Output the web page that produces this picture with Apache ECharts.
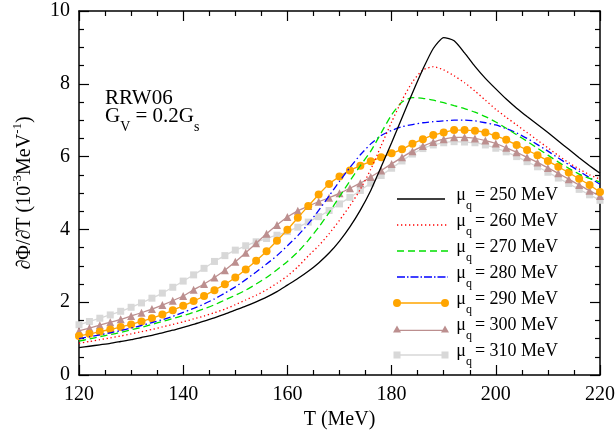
<!DOCTYPE html>
<html><head><meta charset="utf-8">
<script src="https://cdn.jsdelivr.net/npm/echarts@6/dist/echarts.min.js"></script>
<style>html,body{margin:0;padding:0;background:#fff}#c{width:616px;height:431px}</style>
</head><body><div id="c"></div>
<script>
const T = [120,122,124,126,128,130,132,134,136,138,140,142,144,146,148,150,152,154,156,158,160,162,164,166,168,170,172,174,176,178,180,182,184,186,188,190,192,194,196,198,200,202,204,206,208,210,212,214,216,218,220];
const mu250 = [0.75,0.79,0.83,0.87,0.92,0.97,1.03,1.09,1.16,1.23, 1.31,1.39,1.48,1.57,1.67,1.78,1.89,2.01,2.14,2.29, 2.47,2.65,2.85,3.08,3.35,3.68,4.07,4.53,5.07,5.72, 6.38,7.07,7.75,8.40,8.97,9.27,9.18,8.85,8.48,8.15, 7.86,7.58,7.33,7.10,6.88,6.66,6.43,6.20,5.97,5.75,5.54];
const mu260 = [0.87,0.92,0.97,1.02,1.07,1.13,1.19,1.25,1.32,1.39, 1.46,1.54,1.62,1.71,1.81,1.93,2.06,2.19,2.34,2.52, 2.72,2.97,3.27,3.55,3.88,4.25,4.65,5.10,5.65,6.30, 6.95,7.55,8.05,8.38,8.47,8.38,8.22,8.03,7.80,7.55, 7.30,7.08,6.87,6.66,6.45,6.24,6.03,5.83,5.66,5.50,5.38];
const mu270 = [0.93,0.99,1.05,1.11,1.17,1.24,1.31,1.39,1.47,1.55, 1.63,1.72,1.82,1.93,2.06,2.19,2.33,2.50,2.68,2.89, 3.12,3.38,3.70,4.06,4.46,4.90,5.33,5.75,6.15,6.65, 7.15,7.50,7.62,7.60,7.55,7.48,7.40,7.32,7.22,7.10, 6.95,6.78,6.60,6.42,6.23,6.04,5.85,5.68,5.52,5.40,5.30];
const mu280 = [1.00,1.05,1.10,1.16,1.22,1.29,1.36,1.44,1.52,1.61, 1.72,1.83,1.95,2.09,2.25,2.42,2.62,2.83,3.05,3.28, 3.55,3.83,4.15,4.52,4.92,5.32,5.70,6.05,6.35,6.58, 6.72,6.82,6.88,6.93,6.96,6.98,7.00,7.00,6.98,6.93, 6.87,6.77,6.65,6.50,6.33,6.15,5.96,5.78,5.60,5.42,5.24];
const mu290 = [1.07,1.13,1.19,1.25,1.32,1.39,1.47,1.56,1.66,1.78, 1.90,2.03,2.17,2.33,2.49,2.68,2.90,3.14,3.40,3.69, 3.99,4.32,4.64,4.96,5.25,5.45,5.62,5.75,5.87,5.98, 6.09,6.20,6.35,6.48,6.59,6.66,6.73,6.73,6.71,6.66, 6.57,6.46,6.32,6.18,6.04,5.88,5.72,5.56,5.39,5.22,5.03];
const mu300 = [1.21,1.29,1.37,1.45,1.53,1.62,1.71,1.81,1.92,2.04, 2.17,2.34,2.50,2.68,2.88,3.11,3.36,3.62,3.88,4.12, 4.34,4.51,4.64,4.76,4.87,4.99,5.13,5.27,5.44,5.62, 5.80,5.98,6.15,6.29,6.40,6.48,6.53,6.53,6.50,6.44, 6.36,6.24,6.12,5.98,5.84,5.69,5.54,5.38,5.22,5.06,4.92];
const mu310 = [1.38,1.47,1.56,1.65,1.75,1.86,1.98,2.11,2.25,2.41, 2.58,2.75,2.93,3.12,3.28,3.43,3.55,3.66,3.75,3.84, 3.94,4.06,4.20,4.35,4.52,4.70,4.88,5.07,5.27,5.48, 5.68,5.88,6.07,6.22,6.32,6.38,6.41,6.40,6.38,6.32, 6.23,6.13,6.00,5.86,5.72,5.57,5.41,5.26,5.10,4.95,4.80];
const seriesNames = ['250','260','270','280','290','300','310'];
const xTicks = [120,140,160,180,200,220];
const yTicks = [0,2,4,6,8,10];

const FONT = '"Liberation Serif","DejaVu Serif",serif';
const pairs = v => T.map((t,i)=>[t,v[i]]);

const lineDefs = [
  {v:mu250, color:'#000000', type:'solid'},
  {v:mu260, color:'#ff0000', type:[1.3,2.7]},
  {v:mu270, color:'#00e000', type:[7,4]},
  {v:mu280, color:'#0000ff', type:[7,3,1.5,3]},
  {v:mu290, color:'#ffa500', type:'solid', sym:'circle', size:8},
  {v:mu300, color:'#bc8f8f', type:'solid', sym:'triangle', size:8},
  {v:mu310, color:'#d8d8d8', type:'solid', sym:'rect', size:7}
];

const series = lineDefs.map((d,i)=>({
  name: seriesNames[i], type:'line', data: pairs(d.v), smooth:0.2,
  symbol: d.sym || 'none', symbolSize: d.size || 0, showSymbol: !!d.sym,
  lineStyle:{color:d.color, width:1.3, type:d.type},
  itemStyle:{color:d.color},
  z: 2 + (6 - i),
  animation:false
}));

// legend icons (58 x 8 boxes, pinned bounding box)
const IW = 58, IH = 8;
const PIN = 'M0,0L0.01,0L0,0.01Z M58,8L57.99,8L58,7.99Z';
function dashIcon(pattern, x0, x1, th){
  let s = 'path://' + PIN, x = x0, k = 0;
  const y0 = (4 - th/2).toFixed(2), y1 = (4 + th/2).toFixed(2);
  while (x < x1 - 0.01) {
    const len = pattern[k % pattern.length];
    if (k % 2 === 0) { const e = Math.min(x + len, x1); s += ` M${x.toFixed(2)},${y0}H${e.toFixed(2)}V${y1}H${x.toFixed(2)}Z`; }
    x += len; k++;
  }
  return s;
}
const iconPaths = {
  '250': dashIcon([48,0], 4, 52, 1.3),
  '260': dashIcon([1.3,2.7], 4, 54, 1.3),
  '270': dashIcon([7,4], 4, 56, 1.3),
  '280': dashIcon([8,2,1.5,2], 4, 55, 1.3),
  '290': 'path://' + PIN + ' M0,4A4,4 0 1,1 8,4A4,4 0 1,1 0,4Z M7,3.35H49V4.65H7Z M48,4A4,4 0 1,1 56,4A4,4 0 1,1 48,4Z',
  '300': 'path://' + PIN + ' M0,7.5L4,0.5L8,7.5Z M6,4.7H50V6H6Z M48,7.5L52,0.5L56,7.5Z',
  '310': 'path://' + PIN + ' M0.5,0.5H7.5V7.5H0.5Z M7,3.35H49V4.65H7Z M48.5,0.5H55.5V7.5H48.5Z'
};
const legendData = seriesNames.map(n => ({name:n, icon:iconPaths[n]}));

const axisCommon = {
  axisLine:{show:true, onZero:false, lineStyle:{color:'#000', width:1.5}},
  axisTick:{show:true, inside:true, length:10, lineStyle:{color:'#000', width:1.2}},
  minorTick:{show:true, splitNumber:4, length:5, lineStyle:{color:'#000', width:1.2}},
  splitLine:{show:false}
};
const labelStyle = {color:'#000', fontFamily:FONT, fontSize:20};

const option = {
  animation:false,
  backgroundColor:'#fff',
  grid:{left:79, right:16, top:11, bottom:56, containLabel:false, outerBoundsMode:'none'},
  xAxis:[
    Object.assign({type:'value', min:120, max:220, interval:20, position:'bottom',
      axisLabel:Object.assign({margin:10, formatter:v=>xTicks.includes(v)?String(v):''}, labelStyle),
      name:'T (MeV)', nameLocation:'middle', nameGap:30, nameTextStyle:labelStyle}, axisCommon),
    Object.assign({type:'value', min:120, max:220, interval:20, position:'top', axisLabel:{show:false}}, axisCommon)
  ],
  yAxis:[
    Object.assign({type:'value', min:0, max:10, interval:2, position:'left',
      axisLabel:Object.assign({margin:9, formatter:v=>yTicks.includes(v)?String(v):''}, labelStyle),
      name:'∂Φ/∂T (10{sup|-3}MeV{sup|-1})', nameLocation:'middle', nameGap:39, nameRotate:90,
      nameTextStyle:{color:'#000', fontFamily:FONT, fontSize:20, lineHeight:28,
        rich:{sup:{fontFamily:FONT, fontSize:13, lineHeight:14, verticalAlign:'top', color:'#000'}}}}, axisCommon),
    Object.assign({type:'value', min:0, max:10, interval:2, position:'right', axisLabel:{show:false}}, axisCommon)
  ],
  legend:{
    orient:'vertical', left:388, top:181, itemWidth:IW, itemHeight:IH, itemGap:0,
    selectedMode:false, data:legendData,
    formatter: n => '{h| }{mu|μ}{sub|q }{t|= ' + n + ' MeV}',
    textStyle:{color:'#000', fontFamily:FONT, fontSize:18,
      rich:{
        h:{fontSize:1, lineHeight:26},
        mu:{fontFamily:FONT, fontSize:18, lineHeight:21, verticalAlign:'top', color:'#000'},
        t:{fontFamily:FONT, fontSize:18, lineHeight:21, verticalAlign:'top', color:'#000'},
        sub:{fontFamily:FONT, fontSize:12, lineHeight:20, verticalAlign:'bottom', color:'#000'}
      }}
  },
  graphic:[
    {type:'text', left:105, top:88, style:{text:'RRW06', font:'21px "Liberation Serif", serif', fill:'#000'}},
    {type:'text', left:105, top:106, style:{
      text:'{m|G}{s|V}{m| = 0.2G}{s|s}',
      rich:{
        m:{fontFamily:FONT, fontSize:21, lineHeight:28, verticalAlign:'top', fill:'#000', color:'#000'},
        s:{fontFamily:FONT, fontSize:14, lineHeight:10, verticalAlign:'bottom', fill:'#000', color:'#000'}
      }}}
  ],
  series: series
};
const chart = echarts.init(document.getElementById('c'), null, {renderer:'canvas'});
chart.setOption(option);
</script></body></html>
